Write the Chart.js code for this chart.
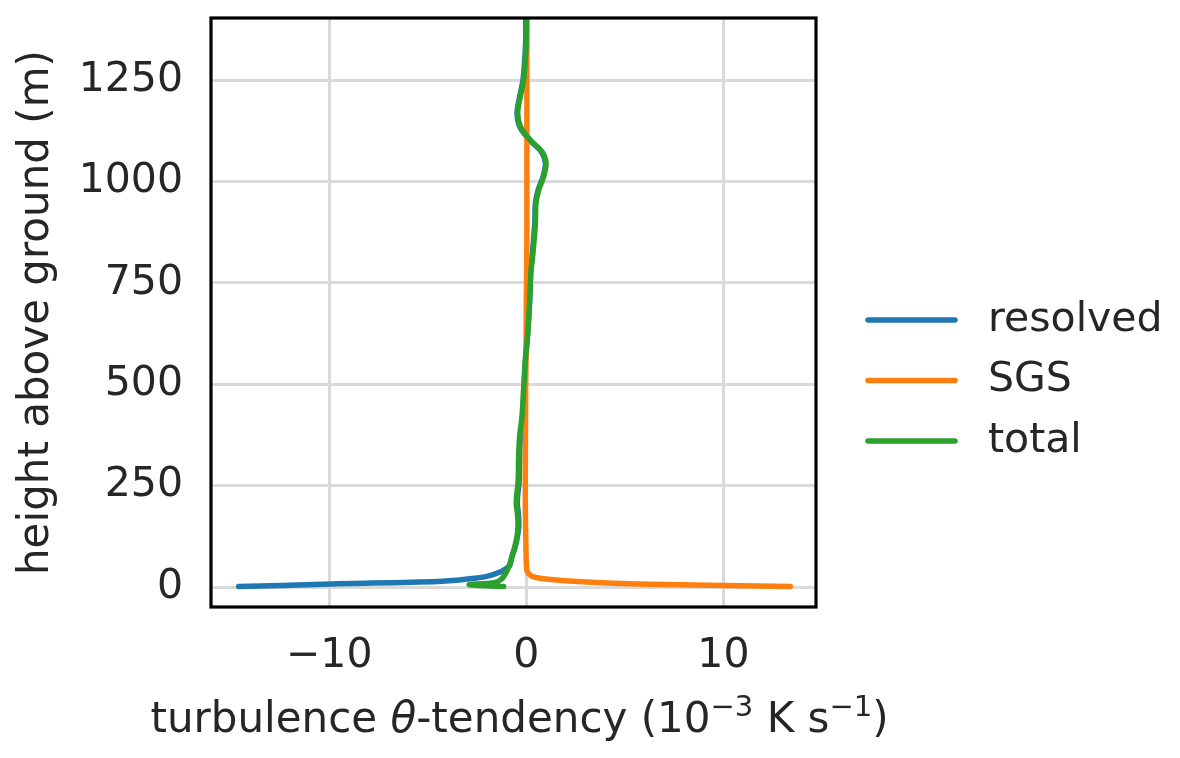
<!DOCTYPE html>
<html>
<head>
<meta charset="utf-8">
<script src="https://cdn.jsdelivr.net/npm/chart.js@4/dist/chart.umd.min.js"></script>
<style>
  html, body { margin: 0; padding: 0; background: #ffffff; }
  canvas { display: block; }
</style>
</head>
<body>
<canvas id="c" width="1180" height="758"></canvas>
<script>
// ---- data (tendency in 1e-3 K/s, height in m) ----
const seriesNames = ["resolved", "SGS", "total"];
const seriesColors = ["#1f77b4", "#ff7f0e", "#2ca02c"];

const resolvedHeight = [1.6, 4, 8, 14, 20, 26, 39, 53, 75, 100, 125, 150, 180, 206, 230, 256, 290, 321, 371, 420, 486, 560, 625, 708, 782, 806, 847, 897, 946, 979, 1012, 1045, 1073, 1102, 1135, 1168, 1201, 1250, 1299, 1350, 1410];
const resolvedValue  = [-14.6, -12.4, -9.9, -4.5, -3.0, -2.05, -1.24, -0.85, -0.73, -0.56, -0.45, -0.38, -0.40, -0.46, -0.43, -0.37, -0.35, -0.34, -0.30, -0.18, -0.11, -0.04, 0.07, 0.17, 0.22, 0.28, 0.35, 0.43, 0.46, 0.60, 0.85, 0.97, 0.77, 0.17, -0.33, -0.47, -0.37, -0.17, -0.08, -0.03, -0.03];

const sgsHeight = [1.6, 4, 8, 14, 20, 25, 33, 41, 60, 100, 200, 300, 400, 500, 600, 700, 800, 900, 1000, 1100, 1200, 1300, 1410];
const sgsValue  = [13.4, 10.0, 5.6, 2.57, 1.0, 0.36, 0.12, 0.03, 0.0, -0.02, -0.05, -0.05, -0.04, -0.03, -0.01, 0.0, 0.02, 0.03, 0.03, 0.03, 0.03, 0.03, 0.03];

const totalHeight = [1.5, 6, 11, 20, 34, 55, 75, 100, 125, 150, 180, 206, 230, 256, 290, 321, 371, 420, 486, 560, 625, 708, 782, 806, 847, 897, 946, 979, 1012, 1045, 1073, 1102, 1135, 1168, 1201, 1250, 1299, 1350, 1410];
const totalValue  = [-1.15, -2.9, -1.6, -1.25, -1.05, -0.85, -0.73, -0.58, -0.47, -0.42, -0.45, -0.51, -0.48, -0.42, -0.40, -0.39, -0.34, -0.22, -0.14, -0.05, 0.07, 0.17, 0.24, 0.30, 0.38, 0.46, 0.49, 0.63, 0.88, 1.0, 0.8, 0.2, -0.3, -0.44, -0.34, -0.14, -0.05, 0.0, 0.0];

const xTicks = [-10, 0, 10];
const yTicks = [0, 250, 500, 750, 1000, 1250];
// x label: "turbulence θ-tendency (10⁻³ K s⁻¹)" in styled pieces
const xLabelParts = [
  { t: "turbulence ", s: "n" },
  { t: "θ", s: "i" },
  { t: "-tendency (10", s: "n" },
  { t: "\u22123", s: "sup" },
  { t: " K s", s: "n" },
  { t: "\u22121", s: "sup" },
  { t: ")", s: "n" }
];
const yLabel = "height above ground (m)";

// ---- build ----
const TEXT = "#262626";
const FONT = "DejaVu Sans";
const FS = 41;     // ticks & legend
const LFS = 42;    // axis labels
const GRID = "#dadada";

function pts(h, v) { return h.map((hh, i) => ({ x: v[i], y: hh })); }
const allSeries = [pts(resolvedHeight, resolvedValue), pts(sgsHeight, sgsValue), pts(totalHeight, totalValue)];

const datasets = allSeries.map((d, i) => ({
  label: seriesNames[i],
  data: d,
  showLine: true,
  borderColor: seriesColors[i],
  backgroundColor: seriesColors[i],
  borderWidth: 5.5,
  pointRadius: 0,
  tension: 0.3,
  borderCapStyle: "round",
  borderJoinStyle: "round",
  order: seriesNames.length - i
}));

function partFont(s) {
  if (s === "sup") return Math.round(LFS * 0.7) + "px '" + FONT + "'";
  if (s === "i") return "italic " + LFS + "px '" + FONT + "'";
  return LFS + "px '" + FONT + "'";
}

const framePlugin = {
  id: "frame",
  afterDatasetsDraw(chart) {
    const { ctx, chartArea: a } = chart;
    ctx.save();
    ctx.strokeStyle = "#000000";
    ctx.lineWidth = 3.2;
    ctx.strokeRect(a.left, a.top, a.right - a.left, a.bottom - a.top);
    ctx.restore();
  },
  afterDraw(chart) {
    const { ctx, chartArea: a } = chart;
    ctx.save();
    // legend
    const x0 = a.right + 52, x1 = a.right + 139, tx = a.right + 172;
    const yc = (a.top + a.bottom) / 2 + 68;
    const gap = 60.5;
    seriesNames.forEach((name, i) => {
      const y = yc + (i - 1) * gap;
      ctx.strokeStyle = seriesColors[i];
      ctx.lineWidth = 5.5;
      ctx.lineCap = "round";
      ctx.beginPath();
      ctx.moveTo(x0, y);
      ctx.lineTo(x1, y);
      ctx.stroke();
      ctx.fillStyle = TEXT;
      ctx.font = FS + "px '" + FONT + "'";
      ctx.textBaseline = "middle";
      ctx.textAlign = "left";
      ctx.fillText(name, tx, y);
    });
    // x axis label
    ctx.textBaseline = "alphabetic";
    ctx.textAlign = "left";
    ctx.fillStyle = TEXT;
    let total = 0;
    const widths = xLabelParts.map(p => { ctx.font = partFont(p.s); const w = ctx.measureText(p.t).width; total += w; return w; });
    let x = (a.left + a.right) / 2 + 6 - total / 2;
    const baseY = a.bottom + 125;
    xLabelParts.forEach((p, i) => {
      ctx.font = partFont(p.s);
      ctx.fillText(p.t, x, p.s === "sup" ? baseY - 16 : baseY);
      x += widths[i];
    });
    ctx.restore();
  }
};

new Chart(document.getElementById("c"), {
  type: "scatter",
  data: { datasets },
  options: {
    responsive: false,
    animation: false,
    layout: { padding: { left: 0, top: 18, right: 364, bottom: 0 } },
    plugins: { legend: { display: false }, tooltip: { enabled: false } },
    scales: {
      x: {
        type: "linear",
        min: -16,
        max: 14.7,
        afterBuildTicks: s => { s.ticks = xTicks.map(v => ({ value: v })); },
        afterFit: s => { s.height = 151; s.paddingLeft = 0; s.paddingRight = 0; },
        grid: { color: GRID, lineWidth: 3, drawTicks: false },
        border: { display: false },
        ticks: {
          padding: 25,
          color: TEXT,
          font: { family: FONT, size: FS },
          callback: v => (v < 0 ? "\u2212" + Math.abs(v) : String(v))
        },
        title: { display: false }
      },
      y: {
        type: "linear",
        min: -49,
        max: 1403,
        afterBuildTicks: s => { s.ticks = yTicks.map(v => ({ value: v })); },
        afterFit: s => { s.width = 211; s.paddingTop = 0; s.paddingBottom = 0; },
        grid: { color: GRID, lineWidth: 3, drawTicks: false },
        border: { display: false },
        ticks: {
          padding: 28,
          color: TEXT,
          font: { family: FONT, size: FS },
          callback: v => String(v)
        },
        title: {
          display: true,
          text: yLabel,
          color: TEXT,
          font: { family: FONT, size: LFS },
          padding: { top: 12, bottom: 0 }
        }
      }
    }
  },
  plugins: [framePlugin]
});
</script>
</body>
</html>
